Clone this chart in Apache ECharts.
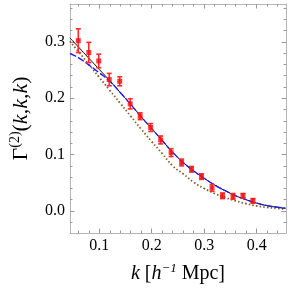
<!DOCTYPE html>
<html><head><meta charset="utf-8">
<script src="https://cdn.jsdelivr.net/npm/echarts@6/dist/echarts.min.js"></script>
<style>html,body{margin:0;padding:0;background:#fff}#c{width:291px;height:291px}</style>
</head><body><div id="c"></div>
<script>
// data points with error bars
var kPts = [0.060,0.080,0.099,0.119,0.139,0.159,0.178,0.198,0.217,0.237,0.257,0.276,0.295,0.315,0.335,0.355,0.374,0.393];
var gammaPts = [0.302,0.281,0.266,0.233,0.230,0.190,0.168,0.148,0.126,0.1035,0.086,0.074,0.061,0.041,0.027,0.026,0.027,0.018];
var errPts = [0.021,0.018,0.012,0.011,0.008,0.009,0.006,0.007,0.007,0.007,0.006,0.005,0.005,0.006,0.005,0.005,0.004,0.004];
// model curves
var kLine = [0.044,0.06,0.08,0.10,0.12,0.14,0.16,0.18,0.20,0.22,0.24,0.26,0.28,0.30,0.32,0.34,0.36,0.38,0.40,0.42,0.44,0.455];
var blackLine = [0.307,0.291,0.271,0.251,0.231,0.210,0.189,0.167,0.146,0.125,0.104,0.086,0.071,0.058,0.046,0.036,0.027,0.020,0.014,0.0095,0.0065,0.0047];
var blueLine  = [0.279,0.272,0.259,0.245,0.230,0.210,0.189,0.167,0.146,0.125,0.104,0.086,0.071,0.058,0.046,0.036,0.027,0.020,0.014,0.0097,0.0068,0.0052];
var brownLine = [0.301,0.283,0.260,0.237,0.214,0.191,0.168,0.145,0.123,0.102,0.080,0.066,0.051,0.040,0.031,0.024,0.018,0.013,0.009,0.0065,0.0045,0.0035];
// ticks
var xMajor = [0.1,0.2,0.3,0.4];
var xMinor = [0.06,0.08,0.12,0.14,0.16,0.18,0.22,0.24,0.26,0.28,0.32,0.34,0.36,0.38,0.42,0.44];
var yMajor = [0.0,0.1,0.2,0.3];
var yMinor = [-0.02,0.02,0.04,0.06,0.08,0.12,0.14,0.16,0.18,0.22,0.24,0.26,0.28,0.32,0.34,0.36];

var XMIN=0.044, XMAX=0.456, YMIN=-0.039, YMAX=0.367;
var FONT='Liberation Serif';
var frameCol='#b4b4b4', tickCol='#999';

function pairs(xs, ys){ return xs.map(function(x,i){return [x,ys[i]];}); }

function xAx(pos, vals, len, labels, line){
  return {type:'value', position:pos, min:XMIN, max:XMAX, gridIndex:0,
    axisLine:{show:line, onZero:false, lineStyle:{color:frameCol,width:1}},
    axisTick:{show:true, inside:true, length:len, customValues:vals, lineStyle:{color:tickCol,width:1}},
    axisLabel:{show:labels, customValues:vals, formatter:function(v){return v.toFixed(1);}, fontFamily:FONT, fontSize:16, color:'#000', margin:5},
    splitLine:{show:false}};
}
function yAx(pos, vals, len, labels, line){
  return {type:'value', position:pos, min:YMIN, max:YMAX, gridIndex:0,
    axisLine:{show:line, onZero:false, lineStyle:{color:frameCol,width:1}},
    axisTick:{show:true, inside:true, length:len, customValues:vals, lineStyle:{color:tickCol,width:1}},
    axisLabel:{show:labels, customValues:vals, formatter:function(v){return v.toFixed(1);}, fontFamily:FONT, fontSize:16, color:'#000', margin:5},
    splitLine:{show:false}};
}

var xa0 = xAx('bottom', xMajor, 4.5, true, true);
xa0.name = '{i|k} [{i|h}{sup|−1} Mpc]';
xa0.nameLocation = 'middle';
xa0.nameGap = 29;
xa0.nameTextStyle = {fontFamily:FONT, fontSize:20, color:'#000', lineHeight:24,
  rich:{i:{fontFamily:FONT, fontStyle:'italic', fontSize:20, lineHeight:24},
        sup:{fontFamily:FONT, fontStyle:'italic', fontSize:13, lineHeight:24, verticalAlign:'top'}}};

var ya0 = yAx('left', yMajor, 4.5, true, true);
ya0.name = 'Γ{sup|(2)}({i|k},{i|k},{i|k})';
ya0.nameLocation = 'middle';
ya0.nameRotate = 90;
ya0.nameGap = 34;
ya0.nameTextStyle = {fontFamily:FONT, fontSize:22, color:'#000', lineHeight:26,
  rich:{i:{fontFamily:FONT, fontStyle:'italic', fontSize:22, lineHeight:26},
        sup:{fontFamily:FONT, fontSize:14, lineHeight:26, verticalAlign:'top'}}};

var option = {
  animation:false,
  backgroundColor:'#fff',
  grid:{left:57, right:5, top:4, bottom:57, containLabel:false},
  xAxis:[xa0, xAx('bottom', xMinor, 2.5, false, false), xAx('top', xMajor, 4.5, false, true), xAx('top', xMinor, 2.5, false, false)],
  yAxis:[ya0, yAx('left', yMinor, 2.5, false, false), yAx('right', yMajor, 4.5, false, true), yAx('right', yMinor, 2.5, false, false)],
  series:[
    {type:'line', data:pairs(kLine, brownLine), symbol:'none', smooth:true, clip:true,
      lineStyle:{color:'#8a5a2e', width:1.8, type:[1.5,2.2]}},
    {type:'line', data:pairs(kLine, blackLine), symbol:'none', smooth:true, clip:true,
      lineStyle:{color:'#000', width:1}},
    {type:'line', data:pairs(kLine, blueLine), symbol:'none', smooth:true, clip:true,
      lineStyle:{color:'#1a1aff', width:1.3, type:[7,2]}},
    {type:'custom', data:kPts.map(function(k,i){return [k,gammaPts[i],errPts[i]];}),
      renderItem:function(params, api){
        var x=api.value(0), y=api.value(1), e=api.value(2);
        var t=api.coord([x,y+e]), b=api.coord([x,y-e]);
        var st={stroke:'#ff2a2a', lineWidth:1.6};
        return {type:'group', children:[
          {type:'line', shape:{x1:t[0],y1:t[1],x2:b[0],y2:b[1]}, style:st},
          {type:'line', shape:{x1:t[0]-2.5,y1:t[1],x2:t[0]+2.5,y2:t[1]}, style:st},
          {type:'line', shape:{x1:b[0]-2.5,y1:b[1],x2:b[0]+2.5,y2:b[1]}, style:st}
        ]};
      }, z:5},
    {type:'scatter', data:pairs(kPts, gammaPts), symbol:'rect', symbolSize:5,
      itemStyle:{color:'#ee1010'}, z:6}
  ]
};
var chart = echarts.init(document.getElementById('c'), null, {renderer:'canvas'});
chart.setOption(option);
</script></body></html>
